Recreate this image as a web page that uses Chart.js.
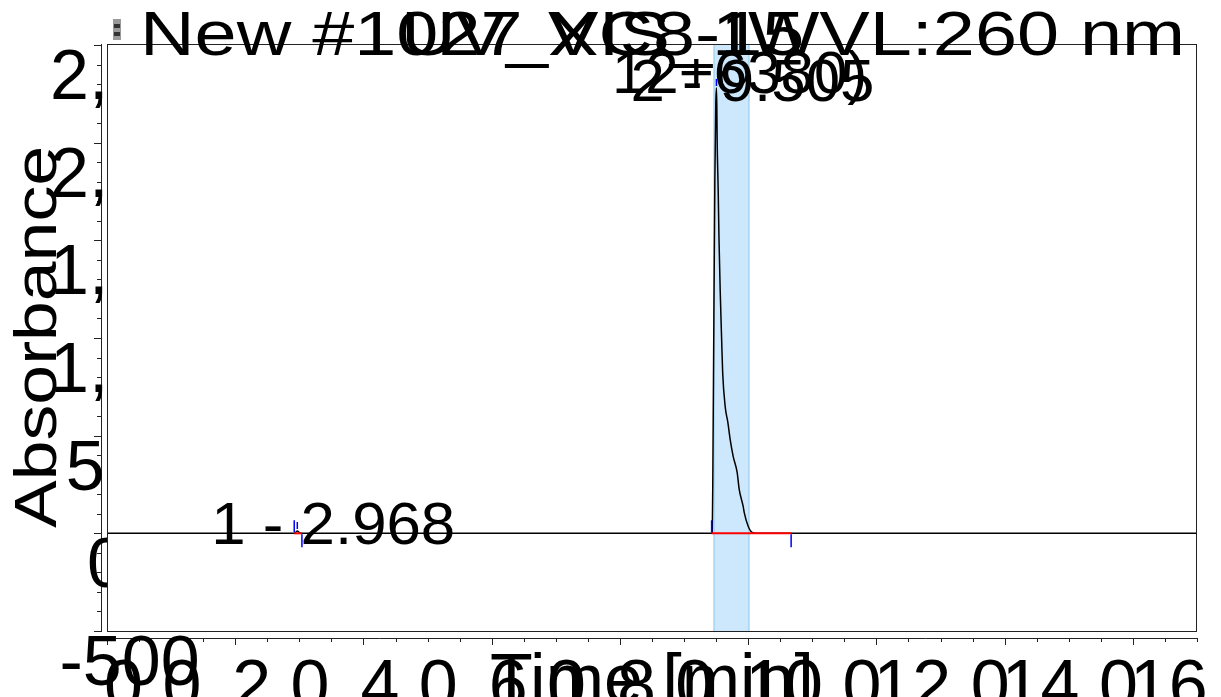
<!DOCTYPE html>
<html lang="en">
<head>
<meta charset="UTF-8">
<title>Chromatogram UV_VIS_1</title>
<script src="https://cdn.jsdelivr.net/npm/chart.js"></script>
<style>
    body { margin: 0; background: #fff; }
    canvas { display: block; }
</style>
</head>
<body>
<canvas id="chrom" width="1221" height="697"></canvas>
<script>
// signal (min, mAU)
const times = [0, 2.90, 2.94, 2.968, 3.00, 3.04, 9.43, 9.44, 9.45, 9.465, 9.48, 9.495, 9.505,
    9.511, 9.516, 9.532, 9.545, 9.563, 9.586, 9.602, 9.641, 9.683, 9.719, 9.766, 9.828,
    9.86, 9.922, 9.938, 10.0, 10.062, 10.19, 17.0];
const absorbance = [0, 0, 4, 12, 4, 0, 0, 0, 350, 1100, 1800, 2200, 2280,
    2185, 2016, 1760, 1505, 1249, 993, 824, 650, 568, 481, 394, 312,
    225, 138, 107, 36, 5, 0, 0];

// integrated peaks
const peakNames = ["1 - 2.968", "2 - 9.505"];
const peakTimes = [2.968, 9.505];
const peakHeights = [12, 2280];
const peakStart = [2.92, 9.43];
const peakEnd = [3.04, 10.67];
const bandRange = [9.46, 10.02];

// axes
const xTicks = [0, 2, 4, 6, 8, 10, 12, 14, 16];
const xTickLabels = ["0.0", "2.0", "4.0", "6.0", "8.0", "10.0", "12.0", "14.0", "16.0"];
const yTicks = [-500, 0, 500, 1000, 1500, 2000, 2500];
const yTickLabels = ["-500", "0", "500", "1,000", "1,500", "2,000", "2,500"];
const xTitle = "Time [min]";
const yTitle = "Absorbance";
const headerLine1 = ["New #1027", "UV_VIS_1", "XC8-15", "WVL:260 nm"];
const headerLine2 = "12+6380)";

const FONT = '"Liberation Sans", Arial, sans-serif';

function stretchedText(ctx, text, x, y, sx) {
    ctx.save();
    ctx.translate(x, y);
    ctx.scale(sx, 1);
    ctx.fillText(text, 0, 0);
    ctx.restore();
}

const decor = {
    id: 'decor',
    beforeDatasetsDraw(chart) {
        const { ctx, chartArea: a, scales: { x } } = chart;
        const x0 = x.getPixelForValue(bandRange[0]);
        const x1 = x.getPixelForValue(bandRange[1]);
        ctx.save();
        ctx.fillStyle = '#cde8fc';
        ctx.fillRect(x0, a.top, x1 - x0, a.bottom - a.top);
        ctx.strokeStyle = '#93c9ec';
        ctx.lineWidth = 1;
        ctx.beginPath();
        ctx.moveTo(x0 + 0.5, a.top); ctx.lineTo(x0 + 0.5, a.bottom);
        ctx.moveTo(x1 - 0.5, a.top); ctx.lineTo(x1 - 0.5, a.bottom);
        ctx.stroke();
        ctx.restore();
    },
    afterDatasetsDraw(chart) {
        const { ctx, chartArea: a, scales: { x, y } } = chart;
        const y0 = y.getPixelForValue(0);
        ctx.save();

        // peak baselines and delimiters
        for (let i = 0; i < peakTimes.length; i++) {
            const xs = x.getPixelForValue(peakStart[i]);
            const xe = x.getPixelForValue(peakEnd[i]);
            const xp = x.getPixelForValue(peakTimes[i]);
            const yp = y.getPixelForValue(peakHeights[i]);
            ctx.strokeStyle = '#ff0000';
            ctx.lineWidth = 2;
            ctx.beginPath(); ctx.moveTo(xs, y0); ctx.lineTo(xe, y0); ctx.stroke();
            ctx.strokeStyle = '#0000ff';
            ctx.lineWidth = 1.5;
            ctx.beginPath();
            ctx.moveTo(xs, y0 - 1); ctx.lineTo(xs, y0 - 13);
            ctx.moveTo(xe, y0 + 1); ctx.lineTo(xe, y0 + 14);
            ctx.moveTo(xp, yp - 2); ctx.lineTo(xp, yp - 9);
            ctx.stroke();
        }

        // frame
        ctx.strokeStyle = '#222';
        ctx.lineWidth = 1;
        ctx.strokeRect(a.left + 0.5, a.top + 0.5, a.right - a.left - 1, a.bottom - a.top);

        // y axis
        const ax = a.left - 6;
        ctx.beginPath();
        ctx.moveTo(ax + 0.5, a.top); ctx.lineTo(ax + 0.5, a.bottom + 1);
        for (let v = -500; v <= 2500; v += 100) {
            const py = Math.round(y.getPixelForValue(v)) + 0.5;
            const len = v % 500 === 0 ? 7 : 4;
            ctx.moveTo(ax, py); ctx.lineTo(ax - len, py);
        }
        // x axis
        const ay = a.bottom + 7;
        ctx.moveTo(a.left, ay + 0.5); ctx.lineTo(a.right + 1, ay + 0.5);
        for (let t = 0; t <= 17; t += 0.5) {
            const px = Math.round(x.getPixelForValue(t)) + 0.5;
            const len = t % 2 === 0 ? 7 : 4;
            ctx.moveTo(px, ay); ctx.lineTo(px, ay + len);
        }
        ctx.stroke();

        ctx.fillStyle = '#000';
        ctx.textBaseline = 'alphabetic';
        ctx.textAlign = 'left';

        // y tick labels
        for (let i = 0; i < yTicks.length; i++) {
            ctx.font = '19px ' + FONT;
            const lx = ax - 3.5 - ctx.measureText(yTickLabels[i]).width;
            const py = y.getPixelForValue(yTicks[i]);
            ctx.font = '70px ' + FONT;
            ctx.save();
            if (yTicks[i] > -500) {
                ctx.beginPath(); ctx.rect(0, 0, a.left, chart.height); ctx.clip();
            }
            ctx.fillText(yTickLabels[i], lx, py + 54);
            ctx.restore();
        }

        // x tick labels
        ctx.font = '70px ' + FONT;
        for (let i = 0; i < xTicks.length; i++) {
            ctx.fillText(xTickLabels[i], x.getPixelForValue(xTicks[i]) - 3, 709);
        }

        // axis titles
        ctx.textAlign = 'center';
        ctx.fillText(xTitle, (a.left + a.right) / 2, 703);
        ctx.save();
        ctx.font = '60px ' + FONT;
        const tw = ctx.measureText(yTitle).width;
        ctx.translate(56, (a.top + a.bottom) / 2 - 0.5);
        ctx.rotate(-Math.PI / 2);
        ctx.scale(382 / tw, 1);
        ctx.fillText(yTitle, 0, 0);
        ctx.restore();

        // peak labels
        ctx.textAlign = 'left';
        ctx.font = '60px ' + FONT;
        for (let i = 0; i < peakNames.length; i++) {
            const xp = x.getPixelForValue(peakTimes[i]);
            const yp = y.getPixelForValue(peakHeights[i]);
            stretchedText(ctx, peakNames[i], xp - 86, Math.min(yp, y0) + 13, 1.03);
        }

        // header
        ctx.fillStyle = '#9a9a9a';
        ctx.fillRect(113, 19, 8, 21);
        ctx.fillStyle = '#333';
        ctx.fillRect(114, 24, 6, 4);
        ctx.fillRect(114, 32, 6, 4);
        ctx.fillStyle = '#000';
        ctx.font = '63px ' + FONT;
        const hsx = 1.2;
        const hx = [140, 401, 548];
        for (let i = 0; i < 3; i++) stretchedText(ctx, headerLine1[i], hx[i], 55, hsx);
        const wr = ctx.measureText(headerLine1[3]).width * hsx;
        stretchedText(ctx, headerLine1[3], 1185 - wr, 55, hsx);
        ctx.font = '60px ' + FONT;
        stretchedText(ctx, headerLine2, 612, 93, 1.0);

        ctx.restore();
    }
};

new Chart(document.getElementById('chrom').getContext('2d'), {
    type: 'line',
    data: {
        datasets: [{
            data: times.map((t, i) => ({ x: t, y: absorbance[i] })),
            borderColor: '#000',
            borderWidth: 1.5,
            pointRadius: 0,
            cubicInterpolationMode: 'monotone',
            fill: false
        }]
    },
    options: {
        responsive: false,
        animation: false,
        layout: { padding: { left: 107, right: 24, top: 44, bottom: 66 } },
        plugins: { legend: { display: false }, tooltip: { enabled: false } },
        scales: {
            x: { type: 'linear', min: 0, max: 17, display: false },
            y: { type: 'linear', min: -500, max: 2505, display: false }
        }
    },
    plugins: [decor]
});
</script>
</body>
</html>
